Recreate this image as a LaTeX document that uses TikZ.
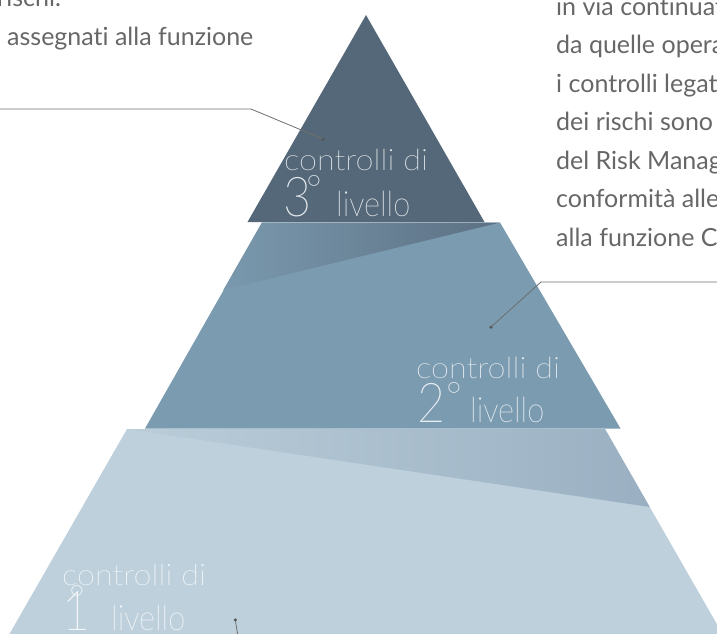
\documentclass[tikz,border=0pt]{standalone}
\usepackage{fontspec}
\setmainfont{Lato}[Ligatures=NoCommon]
\IfFontExistsTF{Lato-Thin.ttf}{\def\thinname{Lato-Thin.ttf}}{%
 \IfFontExistsTF{Lato Thin}{\def\thinname{Lato Thin}}{%
  \IfFontExistsTF{Lato-Light.ttf}{\def\thinname{Lato-Light.ttf}}{%
   \IfFontExistsTF{FiraSans-ExtraLight.otf}{\def\thinname{FiraSans-ExtraLight.otf}}{%
    \IfFontExistsTF{DejaVuSans-ExtraLight.ttf}{\def\thinname{DejaVuSans-ExtraLight.ttf}}{%
     \def\thinname{TeX Gyre Heros}}}}}}
\newfontfamily\thinwide{\thinname}[Ligatures=NoCommon, FakeStretch=1.1]
\newfontfamily\thinnarrow{\thinname}[Ligatures=NoCommon, FakeStretch=0.88]
\newfontfamily\thinfont{\thinname}[Ligatures=NoCommon]
\definecolor{bodygray}{HTML}{676767}
\definecolor{linegray}{HTML}{6E6E6E}
\definecolor{dotgray}{HTML}{505050}
\definecolor{cthree}{HTML}{546879}
\definecolor{ctwo}{HTML}{7B9BB0}
\definecolor{ctwoA}{HTML}{7A99AE}
\definecolor{ctwoB}{HTML}{5C7083}
\definecolor{cone}{HTML}{BDD0DC}
\definecolor{coneA}{HTML}{BACDD9}
\definecolor{coneB}{HTML}{9AB0C2}
\definecolor{lblthree}{HTML}{E6EAED}
\definecolor{lbltwo}{HTML}{E8EEF2}
\definecolor{lblone}{HTML}{F4F7F9}
\begin{document}
\begin{tikzpicture}[x=1pt,y=-1pt,
  body/.style={font=\fontsize{25}{30}\selectfont, text=bodygray, inner sep=0pt, anchor=base west},
  lbl/.style={font=\thinwide\fontsize{29.5}{32}\selectfont, inner sep=0pt, anchor=base west},
  lvl/.style={font=\thinnarrow\fontsize{35}{36}\selectfont, inner sep=0pt, anchor=base west},
  num/.style={font=\thinnarrow\fontsize{55}{56}\selectfont, inner sep=0pt, anchor=base west},
  deg/.style={font=\thinfont\fontsize{38}{40}\selectfont, inner sep=0pt, anchor=base},
  callout/.style={draw=linegray, line width=0.8pt},
  dotnode/.style={circle, fill=dotgray, inner sep=0pt, minimum size=3.5pt}]
\useasboundingbox (0,0) rectangle (717,633);
\clip (0,0) rectangle (717,633);

% level 1 (bottom)
\fill[cone] (127,429) -- (605,429) -- (726,640) -- (6,640) -- cycle;
\shade[left color=coneA, right color=coneB] (127,429) -- (605,429) -- (649.7,507) -- cycle;
% level 2 (middle)
\fill[ctwo] (262,222.5) -- (500,222.5) -- (620.5,428.5) -- (145,428.5) -- cycle;
\shade[left color=ctwoA, right color=ctwoB] (262,222.5) -- (500,222.5) -- (223.3,290) -- cycle;
% level 3 (top)
\fill[cthree] (366,15) -- (484.5,222) -- (247.5,222) -- cycle;

% labels level 3
\begin{scope}[every node/.append style={text=lblthree}]
\node[lbl] (l3a) at (284,170) {controlli di};
\node[num] (l3n) at (283.5,216.5) {3};
\node[deg] (l3d) at (314,202) {°};
\node[lvl] (l3b) at (336,216) {livello};
\end{scope}
% labels level 2
\begin{scope}[every node/.append style={text=lbltwo}]
\node[lbl] (l2a) at (416,378) {controlli di};
\node[num] (l2n) at (417.5,422.5) {2};
\node[deg] (l2d) at (454,409) {°};
\node[lvl] (l2b) at (470,422.5) {livello};
\end{scope}
% labels level 1
\begin{scope}[every node/.append style={text=lblone}]
\node[lbl] (l1a) at (62,585) {controlli di};
\node[num] (l1n) at (62,630.5) {1};
\node[deg] (l1d) at (77.5,612.5) {°};
\node[lvl] (l1b) at (111,630) {livello};
\end{scope}

% body text
\node[body] (tl1) at (-3,6) {rischi.};
\node[body] (tl2) at (7,45) {assegnati alla funzione};
\node[body] (tr1) at (556,15) {in via continuat};
\node[body] (tr2) at (556,53.5) {da quelle opera};
\node[body] (tr3) at (556,92) {i controlli legati};
\node[body] (tr4) at (556,130.5) {dei rischi sono};
\node[body] (tr5) at (556,169) {del Risk Manag};
\node[body] (tr6) at (556,207.5) {conformità alle};
\node[body] (tr7) at (556,246) {alla funzione C};

% callouts
\node[dotnode] (d1) at (323,139) {};
\coordinate (c1a) at (0,109);
\coordinate (c1b) at (251,109);
\draw[callout] (c1a) -- (c1b) -- (d1.center);
\node[dotnode] (d2) at (491,327) {};
\coordinate (c2a) at (717,282);
\coordinate (c2b) at (541,282);
\draw[callout] (c2a) -- (c2b) -- (d2.center);
\node[dotnode] (d3) at (235.3,620) {};
\coordinate (c3a) at (238.6,640);
\draw[callout] (d3.center) -- (c3a);
\end{tikzpicture}
\end{document}
